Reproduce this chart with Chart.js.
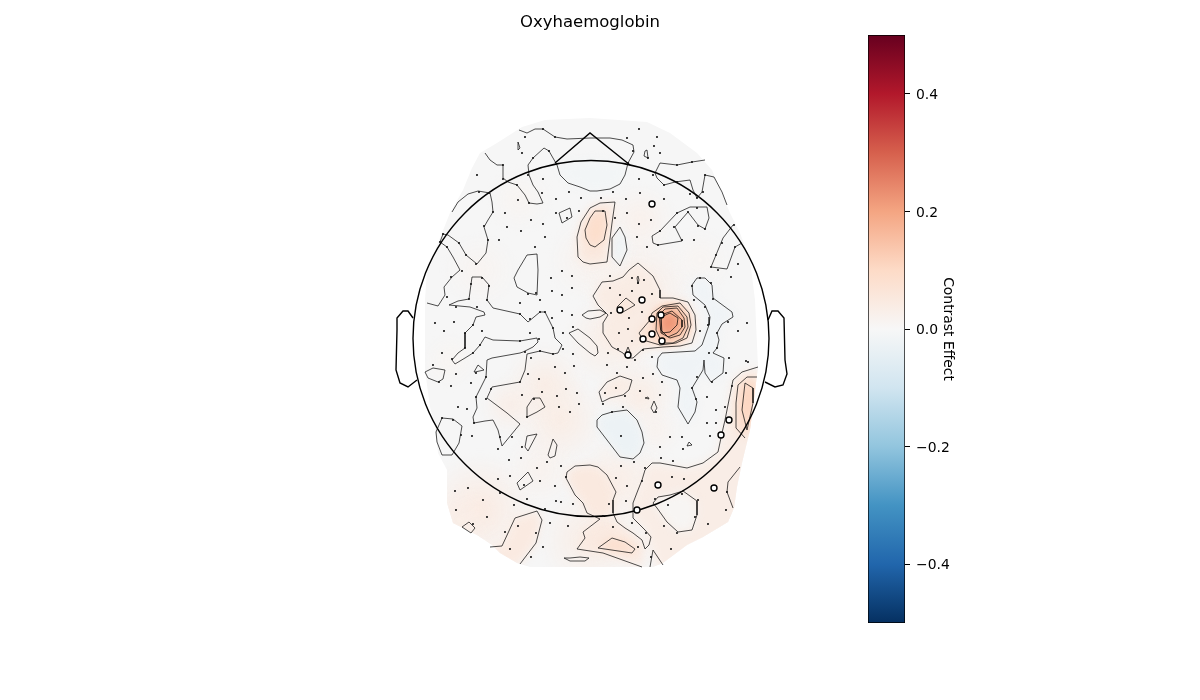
<!DOCTYPE html>
<html>
<head>
<meta charset="utf-8">
<title>Oxyhaemoglobin</title>
<script src="https://cdn.jsdelivr.net/npm/chart.js@4/dist/chart.umd.min.js"></script>
<style>
    html, body { margin: 0; padding: 0; background: #fff; overflow: hidden; }
    canvas { position: absolute; top: 0; left: 0; }
    #colorbar { left: 860px; }
</style>
</head>
<body>
<canvas id="base" width="1200" height="700"></canvas>
<canvas id="field" width="1200" height="700"></canvas>
<canvas id="top" width="1200" height="700"></canvas>
<canvas id="colorbar" width="96" height="700"></canvas>
<script>
const chartTitle = 'Oxyhaemoglobin';
const colorbarLabel = 'Contrast Effect';
const colorbarTicks = [-0.4, -0.2, 0, 0.2, 0.4];
const colorbarRange = [-0.5, 0.5];
// RdBu_r
const colorStops = ['#053061', '#2166ac', '#4393c3', '#92c5de', '#d1e5f0', '#f7f7f7', '#fddbc7', '#f4a582', '#d6604d', '#b2182b', '#67001f'];

// sensor layout, in figure units
const sensors = [
    [525,137],[522,153],[549,151],[533,158],[503,165],[477,175],[503,179],[543,179],[528,175],[517,185],[569,192],[542,193],[479,192],[489,193],
    [518,200],[556,199],[581,198],[529,203],[493,212],[505,213],[556,213],[579,211],[567,218],[531,220],[543,224],[484,226],[507,227],[521,231],
    [545,237],[488,240],[499,240],[535,247],[459,243],[443,234],[440,242],[447,247],[466,255],[476,264],[543,129],[555,137],
    [639,129],[657,137],[627,138],[654,146],[633,151],[660,153],[648,158],[628,163],[677,165],[692,162],[705,175],[653,175],[639,179],[664,185],
    [677,182],[703,192],[690,194],[613,192],[640,193],[664,199],[601,198],[626,199],[697,198],[688,212],[677,213],[697,208],[627,213],[651,220],
    [615,218],[603,211],[639,224],[674,227],[698,226],[705,229],[660,231],[637,237],[682,240],[694,240],[647,247],[658,245],[722,243],[735,247],
    [738,264],[716,255],[734,225],[711,267],
    [462,271],[451,277],[482,278],[489,286],[471,284],[447,297],[487,300],[469,299],[456,307],[477,307],[435,323],[454,322],[444,331],[473,325],
    [482,331],[465,333],[530,333],[539,339],[520,341],[465,348],[473,353],[442,353],[480,345],[452,359],[433,365],[456,374],[476,373],[486,377],
    [439,382],[451,386],[471,383],[520,382],[491,389],[476,397],[486,399],[458,407],[467,409],[474,423],[453,420],[442,418],[562,271],[572,276],
    [551,278],[572,288],[552,291],[562,295],[520,303],[540,300],[536,293],[528,294],[562,311],[572,315],[545,312],[540,312],[552,318],[520,314],
    [530,319],[573,327],[553,328],[563,333],[563,349],[573,354],[540,351],[525,352],[553,354],[531,358],[555,367],[574,366],[565,373],[528,374],
    [539,379],[566,389],[542,392],[577,393],[522,395],[557,396],[534,399],[559,407],[579,404],[570,412],[527,417],
    [610,276],[632,278],[644,280],[638,283],[610,288],[620,295],[632,291],[652,294],[642,312],[629,318],[611,313],[619,333],[628,329],[618,349],
    [632,341],[643,350],[652,357],[608,353],[635,360],[607,365],[627,367],[617,373],[643,378],[653,374],[662,382],[605,393],[616,388],[640,391],
    [625,396],[660,395],[603,404],[623,407],[612,412],[656,412],[708,325],[700,331],[717,333],[713,299],[705,307],[692,286],[700,278],[711,283],
    [694,300],[718,270],[731,277],[728,322],[747,323],[738,331],[717,348],[709,353],[729,358],[746,361],[748,362],[726,373],[712,382],[697,377],
    [692,388],[707,397],[696,399],[716,410],[725,407],[732,386],[716,423],
    [461,435],[472,436],[500,437],[512,437],[498,449],[522,447],[509,460],[521,458],[547,462],[561,466],[537,468],[566,477],[498,479],[510,476],
    [524,485],[540,481],[555,486],[468,488],[455,491],[500,493],[483,500],[527,499],[514,505],[556,501],[561,502],[573,504],[456,510],[545,509],
    [487,517],[473,524],[518,526],[550,523],[568,526],[505,532],[536,533],[543,547],[510,549],[531,557],
    [621,436],[670,437],[682,437],[710,436],[707,423],[660,447],[683,449],[661,458],[634,462],[673,461],[621,466],[645,468],[616,478],[642,481],
    [672,477],[684,479],[627,486],[626,501],[682,494],[698,500],[609,504],[668,505],[655,499],[726,510],[727,492],[603,516],[695,517],[632,523],
    [613,527],[664,526],[708,524],[677,533],[646,533],[638,547],[671,549],[651,557]
];
const significantSensors = [[652,204],[642,300],[620,310],[661,315],[652,319],[652,334],[643,339],[662,341],[628,355],[729,420],[721,435],[658,485],[714,488],[637,510]];

// head outline
const headCentre = [591, 338.5];
const headRadius = 178;
const nose = [[555,163],[590,133],[630,165]];
const leftEar = [[413,318],[408,311],[403,311],[397,318],[397,330],[396,370],[400,383],[408,387],[417,380]];
const rightEar = [[768,320],[772,311],[778,311],[784,318],[785,360],[787,374],[783,385],[775,387],[765,382]];

// outer edge of the interpolated field
const fieldEdge = [
    [522,127],[545,120],[590,118],[647,122],[670,133],[697,153],[712,170],[730,213],[740,233],[750,260],[755,300],[758,367],[750,430],[742,463],
    [737,487],[734,508],[728,522],[703,537],[687,545],[663,563],[653,567],[530,567],[517,563],[500,553],[492,545],[477,535],[453,523],[447,503],
    [447,470],[438,453],[435,427],[430,407],[425,370],[425,300],[427,270],[450,213],[463,190],[472,168],[480,153],[497,143]
];

// contour lines
const topLine = [[519,130],[527,133],[535,129],[543,129],[555,137],[567,139],[590,138],[610,138],[622,140],[633,145],[634,152],[628,163],[625,175],[620,184],[610,189],[597,191],[590,191],[580,187],[568,183],[560,175],[557,165],[549,151],[544,148],[533,158],[528,165],[529,175],[533,185],[538,192],[543,203],[537,204],[529,203],[525,195],[517,185],[508,182],[503,178],[503,165],[497,165],[490,160],[485,153]];
const leftLine = [[452,212],[458,202],[468,194],[478,191],[490,193],[492,202],[493,212],[488,220],[484,227],[488,240],[486,253],[477,264],[466,255],[459,243],[448,235],[443,234],[440,242],[447,247],[453,257],[460,270],[452,277],[444,287],[445,295],[438,306],[427,303]];
const rightTopLine = [[705,160],[692,162],[677,165],[660,163],[655,173],[657,178],[664,185],[675,182],[690,180],[693,190],[697,198],[702,192],[705,175],[714,177],[722,192],[727,205]];
const rightEdgeLine = [[733,225],[723,238],[716,255],[711,267],[727,269],[735,247],[742,243]];
const lowerWarmLine = [[642,567],[603,553],[577,549],[585,538],[583,532],[600,519],[587,513],[583,503],[575,495],[566,478],[567,472],[575,466],[590,465],[598,467],[607,475],[616,492],[613,500],[613,513],[617,522],[625,528],[633,533],[642,540],[645,549],[649,545],[651,537],[645,530],[633,518],[633,503],[638,490],[642,480],[645,470],[652,463],[660,463],[687,468],[703,463],[718,452],[722,433],[725,420],[727,410],[733,380],[742,372],[758,367]];
const rightBlobOuterLine = [[745,438],[736,428],[736,403],[738,385],[747,377],[757,377]];
const lowLeftLine = [[490,547],[502,546],[515,518],[537,511],[542,520],[536,543],[520,564]];
const lowRightLine = [[650,567],[653,550],[663,565]];
const edgeRightLine = [[740,467],[728,482],[727,492],[733,508]];
const openContours = [topLine, leftLine, rightTopLine, rightEdgeLine, lowerWarmLine, rightBlobOuterLine, lowLeftLine, lowRightLine, edgeRightLine];

const midLoop = [[520,424],[507,413],[487,398],[492,387],[520,382],[525,370],[527,354],[540,351],[553,354],[558,353],[562,345],[555,338],[553,328],[545,312],[540,312],[528,322],[520,314],[493,308],[487,300],[489,285],[482,277],[472,277],[469,299],[458,301],[449,305],[470,307],[484,312],[485,315],[476,317],[473,325],[465,333],[465,348],[458,353],[452,360],[455,364],[465,358],[473,353],[480,345],[485,337],[493,340],[520,341],[537,338],[538,342],[533,347],[523,352],[520,353],[492,358],[487,360],[486,377],[476,397],[477,408],[473,417],[474,423],[485,421],[493,420],[498,430],[502,446]];
const noseSliver = [[518,142],[520,148],[518,150],[518,145]];
const earPatch = [[425,372],[433,368],[445,370],[443,379],[438,382],[428,378]];
const smallTriangle = [[474,372],[478,365],[484,370],[475,372]];
const tallPatch = [[518,270],[527,255],[537,254],[538,270],[537,295],[528,293],[517,287],[514,278]];
const diagonalPatch = [[569,333],[578,329],[590,338],[597,346],[598,353],[595,356],[590,353],[578,343]];
const centreSliver = [[582,315],[588,311],[600,310],[606,313],[600,317],[590,319],[586,318]];
const midPatch = [[527,417],[527,407],[533,398],[540,398],[545,407],[537,412]];
const rearLeftPatch = [[436,432],[442,418],[453,419],[462,426],[459,443],[452,455],[442,455],[437,442]];
const wedgeA = [[525,447],[527,436],[537,434],[528,451]];
const wedgeB = [[548,455],[553,439],[557,445],[555,456],[550,458]];
const wedgeC = [[517,483],[528,472],[533,481],[520,490]];
const wedgeD = [[462,527],[469,522],[475,528],[471,533]];
const rearPeak = [[598,548],[612,538],[625,542],[635,549],[632,553]];
const rearSliver = [[564,558],[570,558],[580,557],[589,558],[585,561],[570,561]];
const rearRightHole = [[653,503],[658,497],[670,495],[683,491],[697,501],[697,515],[692,530],[678,532],[667,522],[657,508]];
const coolRear = [[597,420],[602,415],[612,412],[627,410],[637,420],[642,432],[644,443],[640,453],[633,459],[620,457],[607,440],[597,427]];
const tinyTriangle = [[687,446],[689,442],[692,445]];
const motorOuter = [[593,296],[602,282],[613,281],[623,277],[629,270],[638,263],[645,269],[653,276],[660,290],[660,298],[673,298],[688,302],[695,315],[696,330],[692,343],[680,346],[663,347],[643,349],[633,358],[627,358],[623,353],[612,347],[603,333],[603,323],[608,315],[598,305]];
const motorRing2 = [[662,306],[680,303],[689,313],[691,325],[687,338],[676,343],[660,345],[643,340],[639,333],[650,320],[652,313]];
const motorRing3 = [[657,313],[663,307],[678,306],[687,317],[688,327],[683,338],[673,343],[662,343],[656,330]];
const motorRing4 = [[659,315],[665,309],[677,308],[684,318],[685,327],[680,335],[670,338],[661,333]];
const motorRing5 = [[661,315],[672,311],[682,320],[682,327],[677,333],[668,337],[661,330]];
const motorRing6 = [[661,317],[670,313],[678,318],[677,325],[670,332],[662,333]];
const motorSideA = [[617,307],[626,298],[635,305],[623,312],[619,312]];
const motorSliver = [[637,278],[638,276],[639,280],[638,284]];
const motorNick = [[626,352],[628,347],[630,352]];
const lowerCentrePatch = [[599,392],[607,382],[620,376],[632,380],[629,390],[623,395],[610,398],[602,402]];
const tinyPatchA = [[645,398],[648,397],[649,399]];
const tinyDiamond = [[651,408],[654,401],[657,408],[654,413]];
const coolRight = [[662,353],[658,358],[657,367],[662,375],[677,380],[680,388],[678,407],[688,424],[695,412],[697,402],[692,388],[703,370],[704,360],[705,373],[711,382],[723,373],[724,358],[713,353],[717,348],[719,340],[717,333],[722,324],[733,317],[732,312],[713,298],[712,285],[705,278],[697,278],[692,285],[693,295],[705,305],[710,317],[709,325],[702,345],[695,351]];
const upperRightPatch = [[652,236],[660,231],[677,213],[690,207],[707,207],[709,218],[705,229],[698,225],[688,212],[675,227],[678,233],[682,241],[658,245],[653,243]];
const frontWarm = [[590,208],[600,203],[615,202],[612,223],[607,262],[590,264],[583,262],[578,257],[577,237],[581,222]];
const frontPeak = [[590,218],[595,211],[605,211],[607,225],[604,240],[595,247],[590,245],[586,238],[585,230]];
const frontCool = [[620,227],[625,237],[627,250],[620,266],[612,257],[612,238]];
const noseTriangle = [[645,151],[647,150],[648,158],[644,156]];
const frontWedge = [[559,213],[570,208],[572,217],[562,223]];
const rightBlobPeak = [[747,430],[742,410],[745,383],[753,388],[753,403]];
const closedContours = [
    midLoop, noseSliver, earPatch, smallTriangle, tallPatch, diagonalPatch, centreSliver, midPatch, rearLeftPatch, wedgeA, wedgeB, wedgeC, wedgeD,
    rearPeak, rearSliver, rearRightHole, coolRear, tinyTriangle, motorOuter, motorRing2, motorRing3, motorRing4, motorRing5, motorRing6, motorSideA,
    motorSliver, motorNick, lowerCentrePatch, tinyPatchA, tinyDiamond, coolRight, upperRightPatch, frontWarm, frontPeak, frontCool, noseTriangle,
    frontWedge, rightBlobPeak
];

// regions that only tint the field, closed off along the field edge
const noseCool = [[557,165],[568,183],[580,187],[590,191],[610,189],[620,184],[628,163],[590,160]];
const rearRightWarm = [[645,530],[633,518],[633,503],[638,490],[645,470],[652,463],[687,468],[703,463],[718,452],[722,433],[725,420],[733,380],[742,372],[758,367],[770,430],[745,520],[700,560],[660,575],[649,545]];
const rearBandWarm = [[583,532],[600,519],[617,522],[642,540],[645,549],[642,567],[603,553],[577,549],[585,538]];
const rearMidWarm = [[590,465],[575,466],[567,472],[566,478],[575,495],[583,503],[587,513],[600,519],[613,513],[613,500],[616,492],[607,475],[598,467]];
const rearLeftWarm = [[490,547],[502,546],[515,518],[537,511],[542,520],[536,543],[520,564],[500,570]];
const rightBlobWarm = [[745,438],[736,428],[736,403],[738,385],[747,377],[757,377],[765,410]];

// shape, contrast value inside it
const fieldFills = [
    [noseCool, -0.012], [frontCool, -0.022], [coolRear, -0.03], [coolRight, -0.02], [frontWarm, 0.05], [frontPeak, 0.09],
    [rearRightWarm, 0.035], [rearRightHole, 0.008], [rearBandWarm, 0.045], [rearPeak, 0.09], [rearMidWarm, 0.05], [rearLeftWarm, 0.045],
    [lowerCentrePatch, 0.04], [rightBlobWarm, 0.08], [rightBlobPeak, 0.115],
    [motorOuter, 0.04], [motorSideA, 0.06], [motorRing2, 0.08], [motorRing3, 0.11], [motorRing4, 0.145], [motorRing5, 0.18], [motorRing6, 0.225]
];
// broad faint warmth between the contours: x, y, radius, value
const fieldGlows = [
    [480,510,55,0.045],[460,520,30,0.035],[540,470,35,0.02],[560,420,45,0.04],[545,385,40,0.04],[510,405,28,0.035],[590,260,40,0.02],[480,270,35,0.015],[610,340,45,0.035],
    [640,290,55,0.035],[640,395,35,0.04],[655,430,25,0.02],[700,260,30,0.012],[640,220,35,0.025],[450,360,25,0.012],[520,200,30,0.012],[590,540,50,0.04],[620,480,45,0.035],[710,510,40,0.03]
];

Chart.defaults.font.family = '"DejaVu Sans", sans-serif';
Chart.defaults.font.size = 13.9;
Chart.defaults.color = '#000';

const hexToRgb = (hex) => [1, 3, 5].map((i) => parseInt(hex.slice(i, i + 2), 16));

const colorFor = (value) => {
    const pos = (value - colorbarRange[0]) / (colorbarRange[1] - colorbarRange[0]) * (colorStops.length - 1);
    const low = Math.floor(pos);
    const a = hexToRgb(colorStops[low]);
    const b = hexToRgb(colorStops[low + 1]);
    return a.map((c, i) => Math.round(c + (b[i] - c) * (pos - low)));
};

const toPoints = (pairs) => pairs.map(([x, y]) => ({ x, y }));
const closeLoop = (pairs) => toPoints(pairs.concat([pairs[0]]));

const stageOptions = (titled) => ({
    responsive: false,
    animation: false,
    events: [],
    devicePixelRatio: 1,
    // title box takes the top 40 units, so the y axis starts there
    layout: { autoPadding: false, padding: { top: titled ? 0 : 40, right: 20, left: 0, bottom: 0 } },
    scales: {
        x: { type: 'linear', display: false, min: 0, max: 1180 },
        y: { type: 'linear', display: false, min: 40, max: 700, reverse: true },
    },
    plugins: {
        legend: { display: false },
        tooltip: { enabled: false },
        title: {
            display: titled,
            text: chartTitle,
            fullSize: false,
            color: '#000',
            font: { size: 16.5, weight: 'normal', lineHeight: 20 / 16.5 },
            padding: { top: 12.5, bottom: 7.5 },
        },
    },
});

// flat grey under the tints
new Chart(document.getElementById('base'), {
    type: 'scatter',
    data: {
        datasets: [{
            data: closeLoop(fieldEdge),
            showLine: true,
            fill: 'shape',
            backgroundColor: '#f6f6f6',
            borderWidth: 0,
            pointRadius: 0,
        }],
    },
    options: stageOptions(false),
});

// soft tints, blurred and clipped to the field edge
const blurField = {
    id: 'blurField',
    beforeDatasetsDraw(chart) {
        const { ctx, scales } = chart;
        ctx.save();
        ctx.beginPath();
        fieldEdge.forEach(([x, y], i) => {
            const px = scales.x.getPixelForValue(x);
            const py = scales.y.getPixelForValue(y);
            if (i === 0) {
                ctx.moveTo(px, py);
            } else {
                ctx.lineTo(px, py);
            }
        });
        ctx.closePath();
        ctx.clip();
        ctx.filter = 'blur(5px)';
    },
    afterDatasetsDraw(chart) {
        chart.ctx.restore();
    },
};

const glowFill = (context) => {
    if (context.type !== 'data') {
        return 'transparent';
    }
    const { chart, raw } = context;
    const px = chart.scales.x.getPixelForValue(raw.x);
    const py = chart.scales.y.getPixelForValue(raw.y);
    // the bubble overflow check asks for this before the scales have a size
    if (!Number.isFinite(px) || !Number.isFinite(py)) {
        return 'transparent';
    }
    const rgb = colorFor(raw.value).join(',');
    const gradient = chart.ctx.createRadialGradient(px, py, 0, px, py, raw.r);
    gradient.addColorStop(0, `rgba(${rgb},1)`);
    gradient.addColorStop(1, `rgba(${rgb},0)`);
    return gradient;
};

new Chart(document.getElementById('field'), {
    type: 'scatter',
    data: {
        datasets: [
            {
                type: 'bubble',
                data: fieldGlows.map(([x, y, r, value]) => ({ x, y, r, value })),
                backgroundColor: glowFill,
                borderWidth: 0,
                order: 1,
            },
            ...fieldFills.map(([shape, value], i) => ({
                data: closeLoop(shape),
                showLine: true,
                fill: 'shape',
                backgroundColor: `rgb(${colorFor(value).join(',')})`,
                borderWidth: 0,
                pointRadius: 0,
                order: -i,
            })),
        ],
    },
    options: stageOptions(false),
    plugins: [blurField],
});

const contourDataset = (points, order) => ({
    data: points,
    showLine: true,
    fill: false,
    borderColor: '#000',
    borderWidth: 0.7,
    tension: 0,
    pointRadius: 0,
    order,
});
const outlineDataset = (points) => ({
    data: points,
    showLine: true,
    fill: false,
    borderColor: '#000',
    borderWidth: 1.4,
    pointRadius: 0,
    order: 3,
});

new Chart(document.getElementById('top'), {
    type: 'scatter',
    data: {
        datasets: [
            ...openContours.map((line) => contourDataset(toPoints(line), 4)),
            ...closedContours.map((loop) => contourDataset(closeLoop(loop), 4)),
            outlineDataset(toPoints(nose)),
            outlineDataset(toPoints(leftEar)),
            outlineDataset(toPoints(rightEar)),
            {
                type: 'bubble',
                data: [{ x: headCentre[0], y: headCentre[1], r: headRadius }],
                backgroundColor: 'transparent',
                borderColor: '#000',
                borderWidth: 1.4,
                order: 3,
            },
            {
                data: toPoints(sensors),
                backgroundColor: '#111',
                borderWidth: 0,
                pointRadius: 1.05,
                order: 2,
            },
            {
                data: toPoints(significantSensors),
                backgroundColor: '#fff',
                borderColor: '#000',
                borderWidth: 1.4,
                pointRadius: 3,
                order: 1,
            },
        ],
    },
    options: stageOptions(true),
});

// colour bar
new Chart(document.getElementById('colorbar'), {
    type: 'bar',
    data: {
        labels: [colorbarLabel],
        datasets: [{
            data: [colorbarRange],
            barPercentage: 1,
            categoryPercentage: 1,
            borderColor: '#000',
            borderWidth: 1,
            borderSkipped: false,
            backgroundColor: ({ chart }) => {
                const area = chart.chartArea;
                if (!area) {
                    return colorStops[5];
                }
                const gradient = chart.ctx.createLinearGradient(0, area.bottom, 0, area.top);
                colorStops.forEach((color, i) => gradient.addColorStop(i / (colorStops.length - 1), color));
                return gradient;
            },
        }],
    },
    options: {
        responsive: false,
        animation: false,
        events: [],
        devicePixelRatio: 1,
        layout: { padding: { left: 8, top: 35, bottom: 77, right: 0 } },
        plugins: { legend: { display: false }, tooltip: { enabled: false } },
        scales: {
            x: { display: false },
            y: {
                position: 'right',
                min: colorbarRange[0],
                max: colorbarRange[1],
                afterBuildTicks: (scale) => {
                    scale.ticks = colorbarTicks.map((value) => ({ value }));
                },
                afterFit: (scale) => {
                    scale.width = 51;
                },
                border: { display: false },
                grid: { drawOnChartArea: false, drawTicks: true, tickLength: 5, tickColor: '#000', lineWidth: 1 },
                ticks: {
                    autoSkip: false,
                    padding: 6,
                    color: '#000',
                    maxRotation: 0,
                    // empty first line and a short line height push the digits down to the tick
                    font: { size: 13.9, lineHeight: '3px' },
                    callback: (value) => ['', (value < 0 ? '\u2212' : '') + Math.abs(value).toFixed(1)],
                },
                title: { display: true, text: colorbarLabel, color: '#000', padding: 0, font: { size: 13.9 } },
            },
        },
    },
});
</script>
</body>
</html>
